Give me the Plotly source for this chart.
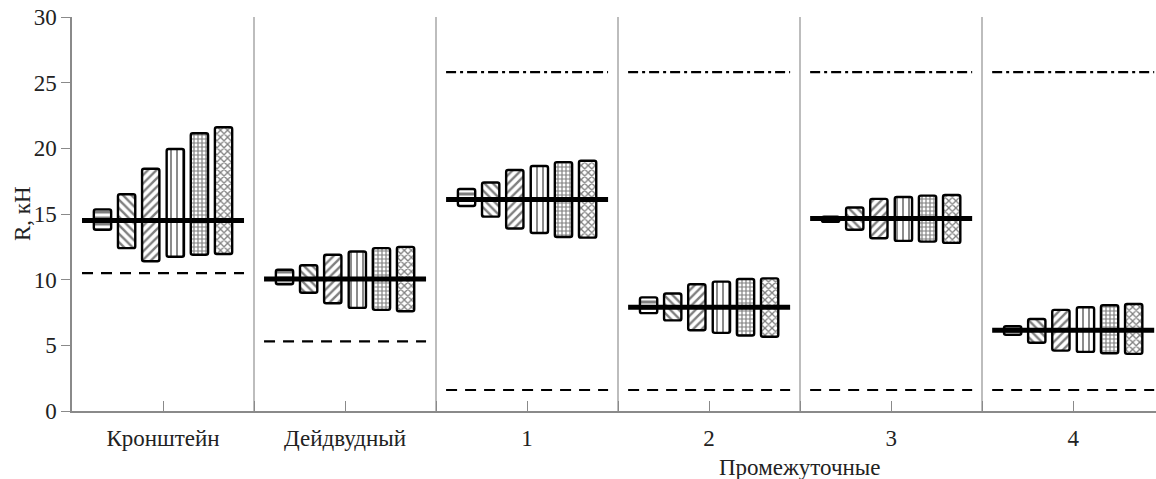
import plotly.graph_objects as go

# ---------------- data ----------------
groups = ["Кронштейн", "Дейдвудный", "1", "2", "3", "4"]
group_center = [1, 3, 5, 7, 9, 11]
group_bounds = [2, 4, 6, 8, 10]
bar_offsets = [-0.665, -0.4, -0.135, 0.135, 0.4, 0.665]

mean_R = [14.5, 10.05, 16.1, 7.9, 14.65, 6.15]
lower_limit = [10.5, 5.3, 1.6, 1.6, 1.6, 1.6]
upper_limit = [None, None, 25.8, 25.8, 25.8, 25.8]

s1_hi = [15.35, 10.75, 16.9, 8.65, 14.8, 6.45]
s1_lo = [13.8, 9.65, 15.6, 7.45, 14.4, 5.8]
s2_hi = [16.5, 11.1, 17.4, 8.95, 15.5, 7.0]
s2_lo = [12.4, 9.0, 14.8, 6.9, 13.8, 5.2]
s3_hi = [18.45, 11.9, 18.35, 9.65, 16.15, 7.7]
s3_lo = [11.4, 8.2, 13.9, 6.15, 13.15, 4.6]
s4_hi = [19.95, 12.15, 18.65, 9.85, 16.3, 7.9]
s4_lo = [11.75, 7.85, 13.55, 5.95, 12.95, 4.5]
s5_hi = [21.15, 12.4, 18.95, 10.05, 16.4, 8.05]
s5_lo = [11.9, 7.7, 13.25, 5.75, 12.9, 4.4]
s6_hi = [21.6, 12.5, 19.05, 10.1, 16.45, 8.15]
s6_lo = [11.95, 7.6, 13.2, 5.65, 12.8, 4.35]

series_hi = [s1_hi, s2_hi, s3_hi, s4_hi, s5_hi, s6_hi]
series_lo = [s1_lo, s2_lo, s3_lo, s4_lo, s5_lo, s6_lo]
patterns = ["-", "\\", "/", "|", "+", "x"]
pattern_sizes = [6, 6, 6, 6, 4, 5]
pattern_solidity = [0.5, 0.4, 0.4, 0.3, 0.5, 0.45]

y_ticks = [0, 5, 10, 15, 20, 25, 30]
x_title = "Промежуточные"
y_title = "R, кН"

# ---------------- figure ----------------
FONT = "Liberation Serif, Times New Roman, serif"
AXIS_GRAY = "#8a8a8a"
TEXT = "#222222"
fig = go.Figure()

for k in range(6):
    xs = [c + bar_offsets[k] for c in group_center]
    fig.add_trace(go.Bar(
        x=xs,
        y=[h - l for h, l in zip(series_hi[k], series_lo[k])],
        base=series_lo[k],
        width=0.19,
        marker=dict(
            color="white",
            line=dict(color="black", width=2.4),
            pattern=dict(shape=patterns[k], fgcolor="black", bgcolor="white",
                         size=pattern_sizes[k], solidity=pattern_solidity[k]),
        ),
        showlegend=False,
        hoverinfo="skip",
    ))

HALF = 0.89


def segments(values):
    xs, ys = [], []
    for c, v in zip(group_center, values):
        if v is None:
            continue
        xs += [c - HALF, c + HALF, None]
        ys += [v, v, None]
    return xs, ys


mx, my = segments(mean_R)
fig.add_trace(go.Scatter(x=mx, y=my, mode="lines",
                         line=dict(color="black", width=5),
                         showlegend=False, hoverinfo="skip"))
lx, ly = segments(lower_limit)
fig.add_trace(go.Scatter(x=lx, y=ly, mode="lines",
                         line=dict(color="black", width=2.2, dash="11px,8px"),
                         showlegend=False, hoverinfo="skip"))
ux, uy = segments(upper_limit)
fig.add_trace(go.Scatter(x=ux, y=uy, mode="lines",
                         line=dict(color="black", width=2.2, dash="10px,4px,3px,4px"),
                         showlegend=False, hoverinfo="skip"))

tickvals_x = list(range(1, 12))
ticktext_x = []
for t in tickvals_x:
    if t in group_center:
        ticktext_x.append(groups[group_center.index(t)])
    else:
        ticktext_x.append("")

fig.update_layout(
    width=1156, height=479,
    margin=dict(l=72, r=0, t=17, b=68),
    paper_bgcolor="white", plot_bgcolor="white",
    font=dict(family=FONT, size=23, color=TEXT),
    barmode="overlay",
    barcornerradius=2,
    xaxis=dict(
        range=[0, 11.91],
        tickmode="array", tickvals=tickvals_x, ticktext=ticktext_x,
        ticks="inside", ticklen=10, tickwidth=1.3, tickcolor=AXIS_GRAY,
        showline=True, linecolor=AXIS_GRAY, linewidth=1.5,
        showgrid=False, zeroline=False,
        ticklabelstandoff=6,
        tickfont=dict(family=FONT, size=23, color=TEXT),
        minor=dict(tickmode="array", tickvals=group_bounds, showgrid=True,
                   gridcolor="#bdbdbd", gridwidth=1.5, ticks=""),
    ),
    yaxis=dict(
        range=[0, 30],
        tickmode="array", tickvals=y_ticks,
        ticks="outside", ticklen=9, tickwidth=1.3, tickcolor=AXIS_GRAY,
        showline=True, linecolor=AXIS_GRAY, linewidth=1.5,
        showgrid=False, zeroline=False,
        tickfont=dict(family=FONT, size=23, color=TEXT),
    ),
    annotations=[
        dict(text=x_title, x=group_bounds[3], xref="x", y=0, yref="paper",
             yanchor="middle", xanchor="center", yshift=-56, showarrow=False,
             font=dict(family=FONT, size=23, color=TEXT)),
        dict(text=y_title, x=0, xref="paper", y=0.5, yref="paper",
             xanchor="center", yanchor="middle", xshift=-50, textangle=-90,
             showarrow=False, font=dict(family=FONT, size=23, color=TEXT)),
    ],
)

fig.write_html("out.html")
